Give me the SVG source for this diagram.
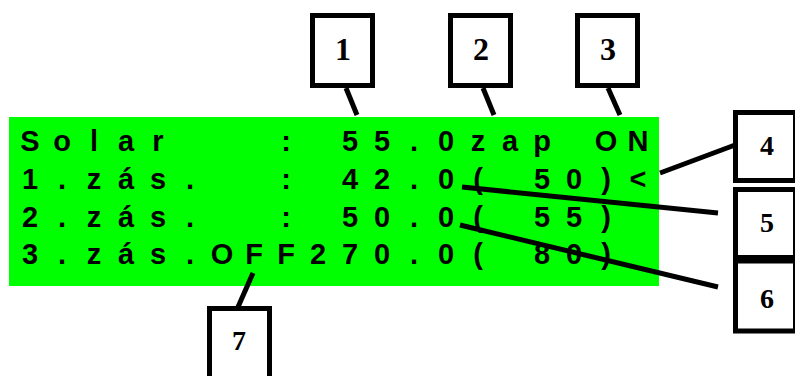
<svg xmlns="http://www.w3.org/2000/svg" width="795" height="376" viewBox="0 0 795 376">
<style>
.lcd{font-family:"Liberation Sans",Arial,sans-serif;font-weight:bold;font-size:29px;fill:#000;text-anchor:middle;white-space:pre}
.box{fill:#fff;stroke:#000;stroke-width:5}
.num{font-family:"Liberation Serif","Times New Roman",serif;font-weight:bold;fill:#000;text-anchor:middle}
.big{font-size:32px}
.small{font-size:28px}
.con{stroke:#000;stroke-width:5;fill:none}
</style>
<rect x="0" y="0" width="795" height="376" fill="#fff"/>
<g id="display">
<rect x="9" y="117" width="650" height="169" fill="#00ff00"/>
<text class="lcd" xml:space="preserve" y="151" x="30 62 94 126 158 190 222 254 286 318 350 382 414 446 478 510 542 574 606 638">Solar   : 55.0zap ON</text>
<text class="lcd" xml:space="preserve" y="189" x="30 62 94 126 158 190 222 254 286 318 350 382 414 446 478 510 542 574 606 638">1.zás.  : 42.0( 50)&lt;</text>
<text class="lcd" xml:space="preserve" y="227" x="30 62 94 126 158 190 222 254 286 318 350 382 414 446 478 510 542 574 606">2.zás.  : 50.0( 55)</text>
<text class="lcd" xml:space="preserve" y="264" x="30 62 94 126 158 190 222 254 286 318 350 382 414 446 478 510 542 574 606">3.zás.OFF270.0( 80)</text>
</g>
<g id="connectors">
<line class="con" x1="346" y1="88" x2="357" y2="115"/>
<line class="con" x1="483" y1="88" x2="494" y2="115"/>
<line class="con" x1="608" y1="88" x2="620" y2="115"/>
<line class="con" x1="660" y1="173" x2="735" y2="145"/>
<line class="con" x1="462" y1="187" x2="718" y2="213"/>
<line class="con" x1="460" y1="225" x2="718" y2="287"/>
<line class="con" x1="253" y1="273" x2="238" y2="307"/>
</g>
<g id="n1"><rect class="box" x="312.5" y="15.5" width="60" height="70"/><text class="num big" x="343" y="60">1</text></g>
<g id="n2"><rect class="box" x="450.5" y="15.5" width="60" height="70"/><text class="num big" x="481" y="60">2</text></g>
<g id="n3"><rect class="box" x="577.5" y="15.5" width="60" height="70"/><text class="num big" x="608" y="60">3</text></g>
<g id="n4"><rect class="box" x="735.5" y="112.5" width="60" height="68"/><text class="num small" x="767" y="155">4</text></g>
<g id="n5"><rect class="box" x="735.5" y="189.5" width="60" height="68"/><text class="num small" x="767" y="232">5</text></g>
<g id="n6"><rect class="box" x="735.5" y="261" width="60" height="70"/><text class="num small" x="767" y="308">6</text></g>
<g id="n7"><rect class="box" x="209.5" y="308.5" width="60" height="72"/><text class="num small" x="239" y="350">7</text></g>
</svg>
